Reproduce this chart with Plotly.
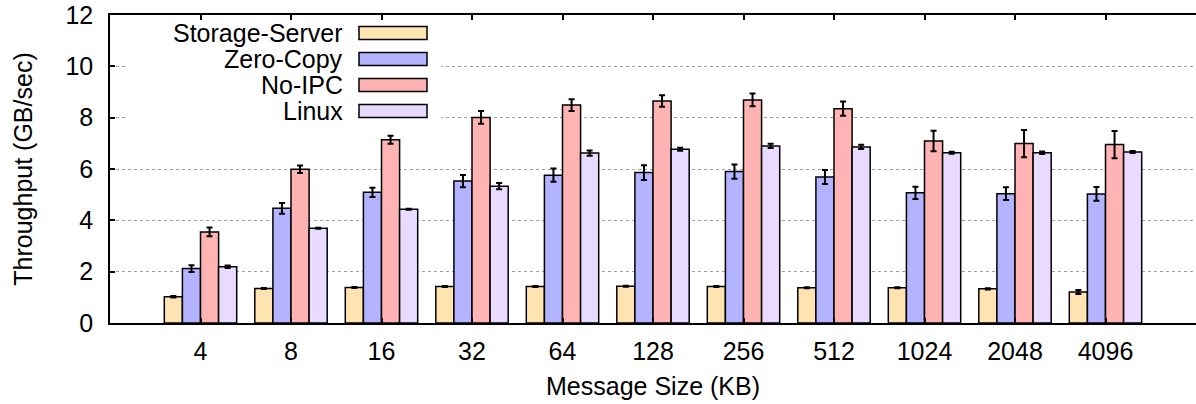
import plotly.graph_objects as go

# Message sizes (KB) on the x axis
sizes = ["4", "8", "16", "32", "64", "128", "256", "512", "1024", "2048", "4096"]

# Throughput (GB/sec) per configuration
storage_server = [1.02, 1.34, 1.38, 1.42, 1.42, 1.43, 1.42, 1.37, 1.37, 1.33, 1.21]
zero_copy = [2.12, 4.47, 5.09, 5.53, 5.76, 5.86, 5.90, 5.69, 5.07, 5.04, 5.03]
no_ipc = [3.55, 5.99, 7.14, 8.01, 8.49, 8.65, 8.69, 8.35, 7.09, 6.99, 6.95]
linux = [2.19, 3.69, 4.43, 5.33, 6.62, 6.77, 6.90, 6.86, 6.63, 6.63, 6.66]

# Error bar half-widths
storage_server_err = [0.03, 0.02, 0.02, 0.02, 0.02, 0.02, 0.02, 0.02, 0.02, 0.02, 0.08]
zero_copy_err = [0.13, 0.21, 0.18, 0.24, 0.26, 0.29, 0.28, 0.27, 0.24, 0.25, 0.27]
no_ipc_err = [0.17, 0.15, 0.16, 0.25, 0.23, 0.22, 0.25, 0.28, 0.40, 0.53, 0.53]
linux_err = [0.05, 0.02, 0.02, 0.12, 0.10, 0.06, 0.08, 0.08, 0.04, 0.05, 0.04]

series_names = ["Storage-Server", "Zero-Copy", "No-IPC", "Linux"]
series_colors = ["#FFE4B2", "#B3B3FF", "#FFB3B3", "#E9DAFF"]
series_values = [storage_server, zero_copy, no_ipc, linux]
series_errors = [storage_server_err, zero_copy_err, no_ipc_err, linux_err]

FONT = "Liberation Sans, Arial, sans-serif"
FS = 25
W, H = 1196, 404
ML, MR, MT, MB = 110, 0, 15, 81

fig = go.Figure()
xpos = list(range(len(sizes)))
for name, color, vals, errs in zip(series_names, series_colors, series_values, series_errors):
    fig.add_trace(go.Bar(
        x=xpos, y=vals, name=name,
        marker=dict(color=color, line=dict(color="black", width=1.5)),
        error_y=dict(type="data", array=errs, visible=True,
                     color="black", thickness=2, width=3),
        showlegend=False,
    ))

# Key drawn inside the plot area, text right-aligned with swatch on the right
pw = W - ML - MR
ph = H - MT - MB
def px_x(px):
    return (px - ML) / pw
def px_y(py):
    return (H - MB - py) / ph

shapes = [dict(type="rect", xref="paper", yref="paper",
               x0=px_x(126), x1=px_x(441), y0=px_y(125), y1=px_y(21),
               fillcolor="white", line=dict(width=0), layer="above")]
annotations = []
row_y = [33, 59, 85, 111]
for name, color, ry in zip(series_names, series_colors, row_y):
    annotations.append(dict(xref="paper", yref="paper", x=px_x(345), y=px_y(ry),
                            text=name, showarrow=False, xanchor="right", yanchor="middle",
                            font=dict(family=FONT, size=FS, color="black")))
    shapes.append(dict(type="rect", xref="paper", yref="paper",
                       x0=px_x(359), x1=px_x(427), y0=px_y(ry + 6.5), y1=px_y(ry - 6.5),
                       fillcolor=color, line=dict(color="black", width=1.5), layer="above"))

fig.update_layout(
    width=W, height=H,
    margin=dict(l=ML, r=MR, t=MT, b=MB),
    paper_bgcolor="white", plot_bgcolor="white",
    barmode="group", bargap=0.2, bargroupgap=0,
    font=dict(family=FONT, size=FS, color="black"),
    shapes=shapes, annotations=annotations,
    xaxis=dict(
        range=[-1, 11], tickvals=xpos, ticktext=sizes,
        showline=True, linecolor="black", linewidth=1.5, mirror="ticks",
        ticks="inside", ticklen=5, tickcolor="black", tickwidth=1.5,
        showgrid=False, zeroline=False, ticklabelstandoff=5,
        title=dict(text="Message Size (KB)", standoff=14,
                   font=dict(family=FONT, size=FS)),
        tickfont=dict(family=FONT, size=FS),
    ),
    yaxis=dict(
        range=[0, 12], dtick=2, tick0=0,
        showline=True, linecolor="black", linewidth=1.5,
        ticks="inside", ticklen=5, tickcolor="black", tickwidth=1.5,
        showgrid=True, gridcolor="#a0a0a0", griddash="dot", gridwidth=1,
        zeroline=False, ticklabelstandoff=10,
        title=dict(text="Throughput (GB/sec)", standoff=26,
                   font=dict(family=FONT, size=FS)),
        tickfont=dict(family=FONT, size=FS),
    ),
)

fig.write_html("out.html")
